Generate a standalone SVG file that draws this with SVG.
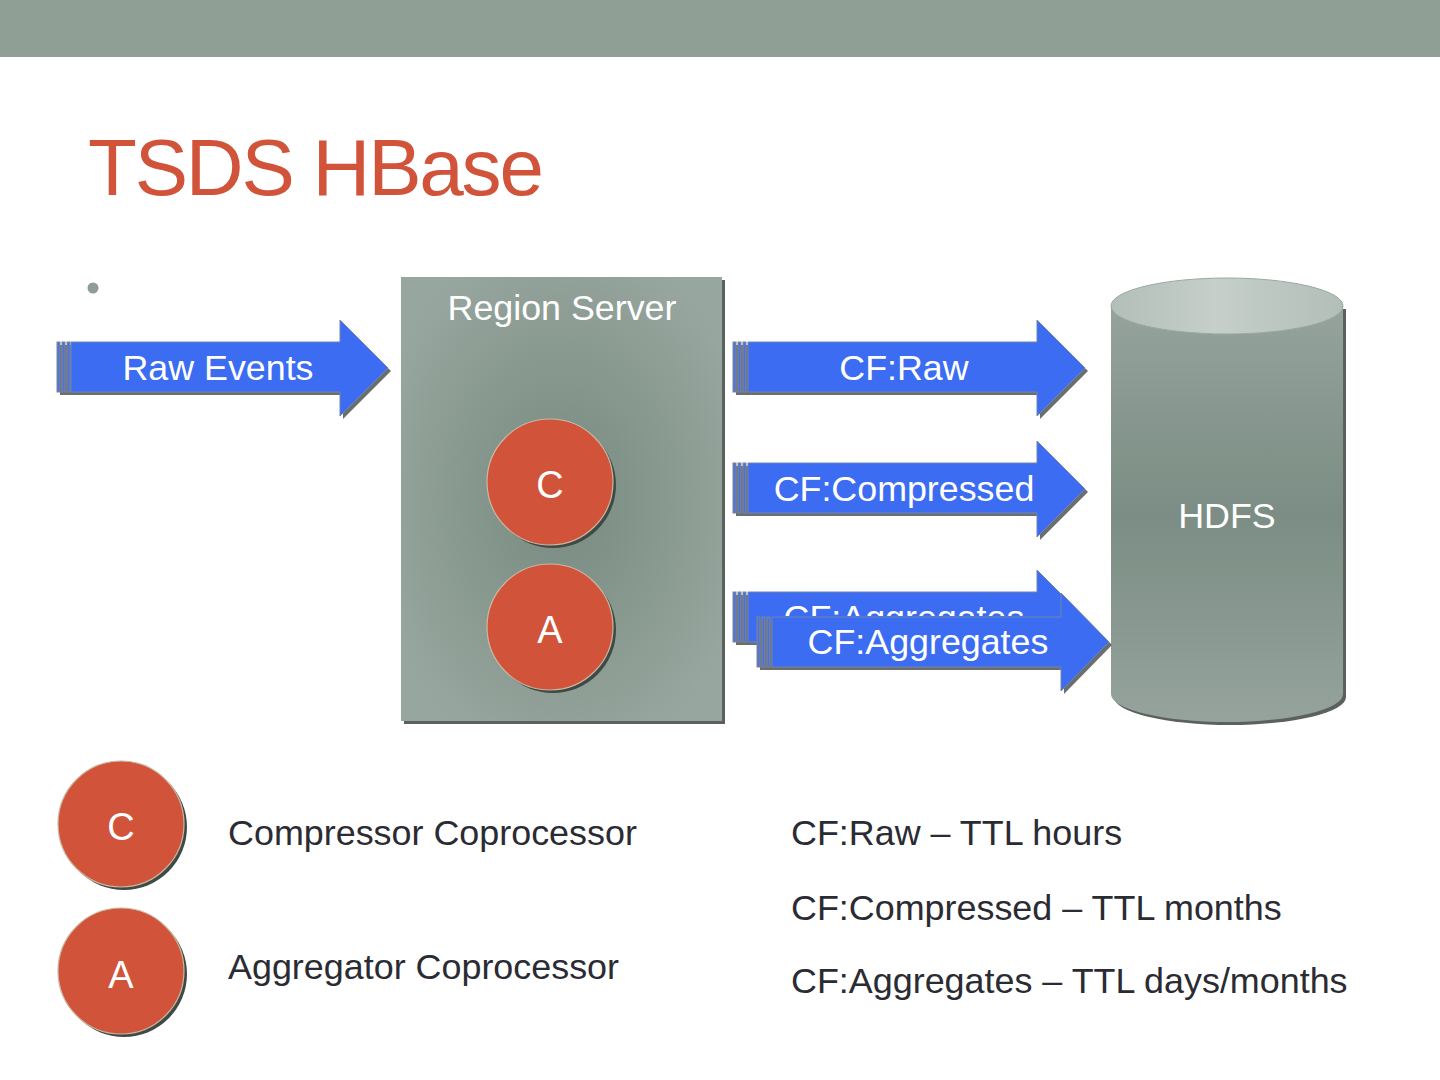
<svg xmlns="http://www.w3.org/2000/svg" width="1440" height="1080" viewBox="0 0 1440 1080">
<style>
text { font-family: "Liberation Sans", Arial, sans-serif; }
.lbl { fill: #ffffff; font-size: 35.8px; text-anchor: middle; }
.body { fill: #2b2b33; font-size: 35.9px; }
.arrow { fill: #3c6cf2; stroke: #7185ad; stroke-width: 1; }
.ashadow { fill: #6a6e70; }
.bar { fill: #4f72d8; stroke: #7a879a; stroke-width: 1; }
.coin { fill: #d0533a; stroke: #cbb7a2; stroke-width: 1.2; }
.coinshadow { fill: #3f4a45; }
.coinlbl { fill: #ffffff; font-size: 38px; text-anchor: middle; }
</style>
<defs>
<radialGradient id="rsGrad" cx="0.5" cy="0.5" r="0.6">
<stop offset="0" stop-color="#778a80"/>
<stop offset="1" stop-color="#97a69e"/>
</radialGradient>
<linearGradient id="cylGrad" x1="0" y1="0" x2="0" y2="1">
<stop offset="0" stop-color="#95a39c"/>
<stop offset="0.5" stop-color="#7b8d84"/>
<stop offset="1" stop-color="#95a39c"/>
</linearGradient>
<linearGradient id="topGrad" x1="0" y1="0" x2="1" y2="0">
<stop offset="0" stop-color="#b2beb8"/>
<stop offset="0.45" stop-color="#c6cfca"/>
<stop offset="1" stop-color="#b2beb8"/>
</linearGradient>
<clipPath id="backClip">
<rect x="700" y="560" width="420" height="56"/>
</clipPath>
</defs>

<rect x="0" y="0" width="1440" height="57" fill="#909f96"/>

<g id="title">
<text x="88" y="195" font-size="80" fill="#d0533a" letter-spacing="-2.2">TSDS HBase</text>
</g>
<circle id="bullet" cx="93" cy="288" r="5.5" fill="#8e9d96"/>

<g id="region-server">
<rect x="404" y="280" width="321" height="444" fill="#5b625e"/>
<rect x="401" y="277" width="321" height="444" fill="url(#rsGrad)"/>
<text class="lbl" x="562" y="320">Region Server</text>
</g>

<g id="node-c">
<circle class="coinshadow" cx="553" cy="485" r="63"/>
<circle class="coin" cx="550" cy="482" r="63"/>
<text class="coinlbl" x="550" y="498">C</text>
</g>
<g id="node-a">
<circle class="coinshadow" cx="553" cy="630" r="63"/>
<circle class="coin" cx="550" cy="627" r="63"/>
<text class="coinlbl" x="550" y="643">A</text>
</g>

<g id="hdfs">
<path d="M1114,309 V697 A116,28 0 0 0 1346,697 V309 Z" fill="#5b625e"/>
<path d="M1111,306 V694 A116,28 0 0 0 1343,694 V306 Z" fill="url(#cylGrad)"/>
<ellipse cx="1227" cy="306" rx="116" ry="28" fill="url(#topGrad)" stroke="#9aa8a1" stroke-width="1"/>
<text class="lbl" x="1227" y="528">HDFS</text>
</g>

<g id="connectors">
<g id="arrow-raw-events">
<path class="ashadow" d="M60,345 H343 V323 L391,371 L343,419 V395 H60 Z"/>
<rect class="bar" x="57" y="342" width="3" height="50"/>
<rect class="bar" x="62" y="342" width="3" height="50"/>
<rect class="bar" x="67" y="342" width="3" height="50"/>
<path class="arrow" d="M71,342 H340 V320 L388,368 L340,416 V392 H71 Z"/>
<text class="lbl" x="218" y="380">Raw Events</text>
</g>
<g id="arrow-cf-raw">
<path class="ashadow" d="M736,345 H1040 V323 L1088,371 L1040,419 V395 H736 Z"/>
<rect class="bar" x="733" y="342" width="3" height="50"/>
<rect class="bar" x="738" y="342" width="3" height="50"/>
<rect class="bar" x="743" y="342" width="3" height="50"/>
<path class="arrow" d="M748,342 H1037 V320 L1085,368 L1037,416 V392 H748 Z"/>
<text class="lbl" x="904" y="380">CF:Raw</text>
</g>
<g id="arrow-cf-compressed">
<path class="ashadow" d="M736,466 H1040 V444 L1088,492 L1040,540 V516 H736 Z"/>
<rect class="bar" x="733" y="463" width="3" height="50"/>
<rect class="bar" x="738" y="463" width="3" height="50"/>
<rect class="bar" x="743" y="463" width="3" height="50"/>
<path class="arrow" d="M748,463 H1037 V441 L1085,489 L1037,537 V513 H748 Z"/>
<text class="lbl" x="904" y="501">CF:Compressed</text>
</g>
<g id="arrow-cf-aggregates-back">
<path class="ashadow" d="M736,595 H1040 V573 L1088,621 L1040,669 V645 H736 Z"/>
<rect class="bar" x="733" y="592" width="3" height="50"/>
<rect class="bar" x="738" y="592" width="3" height="50"/>
<rect class="bar" x="743" y="592" width="3" height="50"/>
<path class="arrow" d="M748,592 H1037 V570 L1085,618 L1037,666 V642 H748 Z"/>
<text class="lbl" x="904" y="630" clip-path="url(#backClip)">CF:Aggregates</text>
</g>
<g id="arrow-cf-aggregates">
<path class="ashadow" d="M760,620 H1064 V596 L1112,645 L1064,694 V670 H760 Z"/>
<rect class="bar" x="757" y="617" width="3" height="50"/>
<rect class="bar" x="762" y="617" width="3" height="50"/>
<rect class="bar" x="767" y="617" width="3" height="50"/>
<path class="arrow" d="M772,617 H1061 V593 L1109,642 L1061,691 V667 H772 Z"/>
<text class="lbl" x="928" y="654">CF:Aggregates</text>
</g>
</g>

<g id="legend-c">
<circle class="coinshadow" cx="124" cy="827" r="63"/>
<circle class="coin" cx="121" cy="824" r="63"/>
<text class="coinlbl" x="121" y="840">C</text>
</g>
<g id="legend-a">
<circle class="coinshadow" cx="124" cy="974" r="63"/>
<circle class="coin" cx="121" cy="971" r="63"/>
<text class="coinlbl" x="121" y="988">A</text>
</g>

<g id="legend-text">
<text class="body" x="228" y="845">Compressor Coprocessor</text>
<text class="body" x="228" y="979">Aggregator Coprocessor</text>
<text class="body" x="791" y="845">CF:Raw – TTL hours</text>
<text class="body" x="791" y="920">CF:Compressed – TTL months</text>
<text class="body" x="791" y="993">CF:Aggregates – TTL days/months</text>
</g>
</svg>
